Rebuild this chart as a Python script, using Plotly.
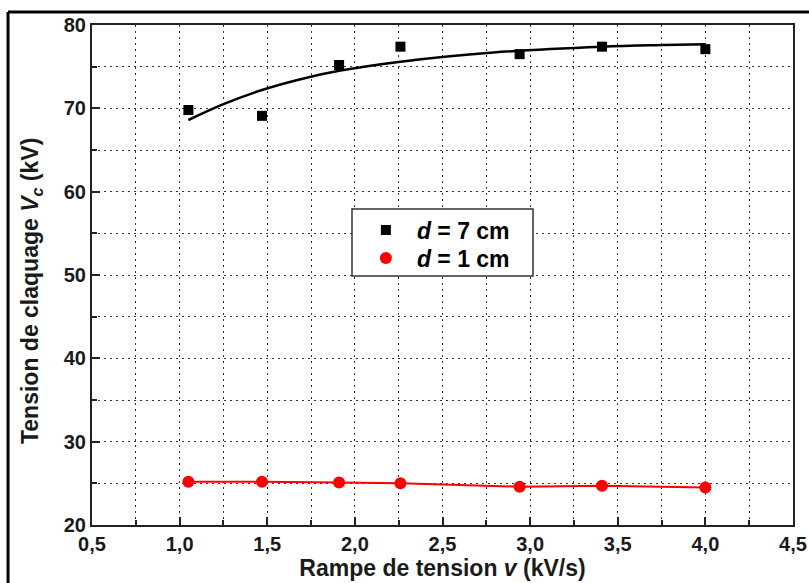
import plotly.graph_objects as go

# Measured breakdown voltage vs. voltage ramp
ramp = [1.05, 1.47, 1.91, 2.26, 2.94, 3.41, 4.0]
vc_7cm = [69.8, 69.1, 75.2, 77.4, 76.5, 77.4, 77.1]
vc_1cm = [25.2, 25.2, 25.1, 25.0, 24.6, 24.7, 24.5]

# Fitted trend for d = 7 cm
fit_x = [1.05, 1.25, 1.47, 1.69, 1.91, 2.26, 2.79, 3.41, 3.76, 4.0]
fit_y = [68.6, 70.5, 72.2, 73.5, 74.5, 75.6, 76.7, 77.4, 77.6, 77.7]

x_ticks = [0.5, 1.0, 1.5, 2.0, 2.5, 3.0, 3.5, 4.0, 4.5]
y_ticks = [20, 30, 40, 50, 60, 70, 80]

FONT = "Liberation Sans, Arial, sans-serif"

fig = go.Figure()

fig.add_trace(go.Scatter(
    x=fit_x, y=fit_y, mode="lines", line=dict(color="black", width=2.5, shape="spline"),
    showlegend=False, hoverinfo="skip"))
fig.add_trace(go.Scatter(
    x=ramp, y=vc_1cm, mode="lines", line=dict(color="#ff0000", width=2),
    showlegend=False, hoverinfo="skip"))
fig.add_trace(go.Scatter(
    x=ramp, y=vc_7cm, mode="markers", name="<b><i>d</i> = 7 cm</b>", legend="legend",
    marker=dict(symbol="square", size=10, color="black")))
fig.add_trace(go.Scatter(
    x=ramp, y=vc_1cm, mode="markers", name="<b><i>d</i> = 1 cm</b>", legend="legend2",
    marker=dict(symbol="circle", size=12, color="#ff0000")))

grid = dict(showgrid=True, gridcolor="#333333", gridwidth=1.2, griddash="2px,4px")

fig.update_xaxes(
    range=[0.5, 4.5], tickvals=x_ticks, tickformat=".1f", automargin=False,
    ticks="inside", ticklen=8, tickwidth=2, tickcolor="#222",
    showline=True, linecolor="#222", linewidth=2, mirror=True,
    zeroline=False,
    minor=dict(dtick=0.25, ticks="inside", ticklen=5, tickwidth=1.5, tickcolor="#222", **grid),
    tickfont=dict(family=FONT, size=20, color="#1a1a1a", weight="bold"),
    title=dict(text="<b>Rampe de tension <i>v</i> (kV/s)</b>",
               font=dict(family=FONT, size=23, color="#1a1a1a"), standoff=2),
    **grid)
fig.update_yaxes(
    range=[20, 80], tickvals=y_ticks, automargin=False,
    ticks="inside", ticklen=8, tickwidth=2, tickcolor="#222",
    showline=True, linecolor="#222", linewidth=2, mirror=True,
    zeroline=False,
    minor=dict(dtick=5, ticks="inside", ticklen=5, tickwidth=1.5, tickcolor="#222", **grid),
    tickfont=dict(family=FONT, size=20, color="#1a1a1a", weight="bold"),
    **grid)

# Y-axis title, placed slightly below the plot centre
fig.add_annotation(
    text="<b>Tension de claquage <i>V<sub>c</sub></i> (kV)</b>",
    xref="paper", yref="paper", x=-0.087, y=0.468, xanchor="center", yanchor="middle",
    textangle=-90, showarrow=False,
    font=dict(family=FONT, size=23, color="#1a1a1a"))

# Outer frame: left and top edges
fig.add_shape(type="line", xref="paper", yref="paper", x0=-0.1198, x1=-0.1198, y0=-0.12, y1=1.026,
              line=dict(color="black", width=3))
fig.add_shape(type="line", xref="paper", yref="paper", x0=-0.1198, x1=1.03, y0=1.026, y1=1.026,
              line=dict(color="black", width=3))

# Legend frame (covers the grid behind the legend entries)
fig.add_shape(type="rect", xref="paper", yref="paper", x0=0.3709, x1=0.6291, y0=0.498, y1=0.632,
              line=dict(color="#333", width=1.5), fillcolor="white", layer="above")

legend_style = dict(
    x=0.375, xanchor="left", yanchor="middle",
    borderwidth=0, bgcolor="rgba(0,0,0,0)",
    font=dict(family=FONT, size=23, color="black"),
    tracegroupgap=0, itemwidth=52)

fig.update_layout(
    width=809, height=583,
    margin=dict(l=92, r=16, t=25, b=58),
    plot_bgcolor="white", paper_bgcolor="white",
    separators=", ",
    legend=dict(y=0.59, **legend_style),
    legend2=dict(y=0.534, **legend_style),
)

fig.write_html("out.html")
